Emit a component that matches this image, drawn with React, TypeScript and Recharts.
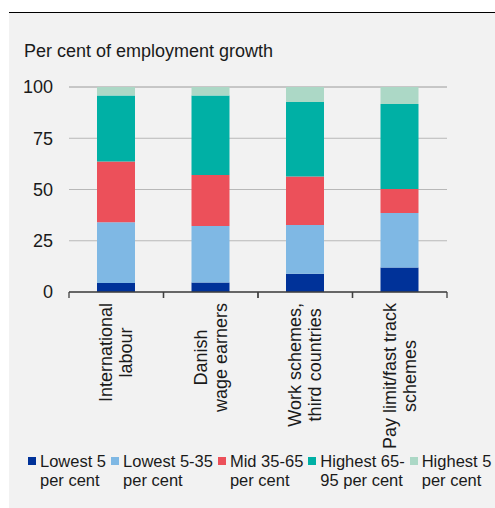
import React from "react";
import { BarChart, Bar, XAxis, YAxis, CartesianGrid } from "recharts";

const categories = [
  "International\nlabour",
  "Danish\nwage earners",
  "Work schemes,\nthird countries",
  "Pay limit/fast track\nschemes",
];
const lowest5 = [4.4, 4.6, 8.9, 12.0];
const lowest5to35 = [29.6, 27.6, 23.8, 26.5];
const mid35to65 = [29.6, 24.9, 23.6, 11.7];
const highest65to95 = [32.2, 38.7, 36.4, 41.5];
const highest5 = [4.2, 4.2, 7.3, 8.3];
const yTicks = [0, 25, 50, 75, 100];

const seriesKeys = ["lowest5", "lowest5to35", "mid35to65", "highest65to95", "highest5"];
const seriesNames = [
  "Lowest 5\nper cent",
  "Lowest 5-35\nper cent",
  "Mid 35-65\nper cent",
  "Highest 65-\n95 per cent",
  "Highest 5\nper cent",
];
const seriesColors = ["#003299", "#7fb8e4", "#ec505a", "#00b0a5", "#acd8c6"];

const data = categories.map((c, i) => ({
  name: c,
  lowest5: lowest5[i],
  lowest5to35: lowest5to35[i],
  mid35to65: mid35to65[i],
  highest65to95: highest65to95[i],
  highest5: highest5[i],
}));

const FONT = "Arial, 'Liberation Sans', Helvetica, sans-serif";
const W = 495;
const H = 508;
const margin = { top: 87, left: 19, right: 8, bottom: 66 };
const leftAxisW = 50;
const rightAxisW = 40;
const xAxisH = 150;
const plotW = W - margin.left - margin.right - leftAxisW - rightAxisW;

let ctx: CanvasRenderingContext2D | null = null;
function measure(text: string, size: number) {
  if (!ctx) {
    const c = document.createElement("canvas");
    ctx = c.getContext("2d");
  }
  if (!ctx) return text.length * size * 0.5;
  ctx.font = `${size}px Arial, 'Liberation Sans', sans-serif`;
  return ctx.measureText(text).width;
}

const CatTick = (props: any) => {
  const { x, y, payload } = props;
  const band = plotW / categories.length;
  const lines = String(payload.value).split("\n");
  const fs = 18;
  const maxW = Math.max(...lines.map((l) => measure(l, fs)));
  const cy = y + 11 + maxW / 2;
  const lh = 20;
  return (
    <g>
      <line x1={x - band / 2} y1={y} x2={x - band / 2} y2={y + 6} stroke="#404040" strokeWidth={1.3} />
      <line x1={x + band / 2} y1={y} x2={x + band / 2} y2={y + 6} stroke="#404040" strokeWidth={1.3} />
      <g transform={`translate(${x},${cy}) rotate(-90)`}>
        {lines.map((l, i) => (
          <text
            key={i}
            x={0}
            y={(i - (lines.length - 1) / 2) * lh}
            textAnchor="middle"
            dominantBaseline="central"
            fontSize={fs}
            fontFamily={FONT}
            fill="#1a1a1a"
          >
            {l}
          </text>
        ))}
      </g>
    </g>
  );
};

export default function App() {
  return (
    <div style={{ position: "absolute", left: 0, top: 0, width: W, height: H, background: "#ffffff", overflow: "hidden", fontFamily: FONT }}>
      <div style={{ position: "absolute", left: 9, top: 12, width: W - 9, height: 1.2, background: "#000" }} />
      <div style={{ position: "absolute", left: 9, top: 13, width: W - 9, height: H - 13, background: "#f2f2f2" }} />
      <div style={{ position: "absolute", left: 24, top: 40.5, fontSize: 18, lineHeight: "20px", color: "#1a1a1a", whiteSpace: "nowrap" }}>
        Per cent of employment growth
      </div>
      <div style={{ position: "absolute", left: 0, top: 0 }}>
        <BarChart width={W} height={H} data={data} margin={margin} barSize={38}>
          <CartesianGrid vertical={false} stroke="#b8b8b8" strokeWidth={1} yAxisId="left" />
          <XAxis
            dataKey="name"
            xAxisId={0}
            height={xAxisH}
            interval={0}
            tickSize={0}
            tickMargin={0}
            tickLine={false}
            axisLine={{ stroke: "#404040", strokeWidth: 1.3 }}
            tick={<CatTick />}
          />
          <YAxis
            yAxisId="left"
            orientation="left"
            width={leftAxisW}
            domain={[0, 100]}
            ticks={yTicks}
            axisLine={false}
            tickLine={false}
            tickSize={0}
            tickMargin={16}
            tick={{ fontSize: 18, fill: "#1a1a1a", fontFamily: FONT }}
          />
          <YAxis
            yAxisId="right"
            orientation="right"
            width={rightAxisW}
            domain={[0, 100]}
            ticks={yTicks}
            axisLine={false}
            tickLine={false}
            tickSize={0}
            tickMargin={15}
            tick={{ fontSize: 18, fill: "#1a1a1a", fontFamily: FONT, textAnchor: "start" }}
          />
          {seriesKeys.map((k, i) => (
            <Bar
              key={k}
              dataKey={k}
              stackId="a"
              yAxisId="left"
              fill={seriesColors[i]}
              isAnimationActive={false}
            />
          ))}
        </BarChart>
      </div>
      <div style={{ position: "absolute", left: 28, top: 452, display: "flex", gap: 5, fontSize: 16.5, lineHeight: "19px", color: "#1a1a1a" }}>
        {seriesNames.map((n, i) => (
          <div key={n} style={{ display: "flex", alignItems: "flex-start" }}>
            <div style={{ width: 8, height: 8, marginTop: 5, marginRight: 4, background: seriesColors[i], flex: "none" }} />
            <div style={{ whiteSpace: "pre" }}>{n}</div>
          </div>
        ))}
      </div>
    </div>
  );
}
